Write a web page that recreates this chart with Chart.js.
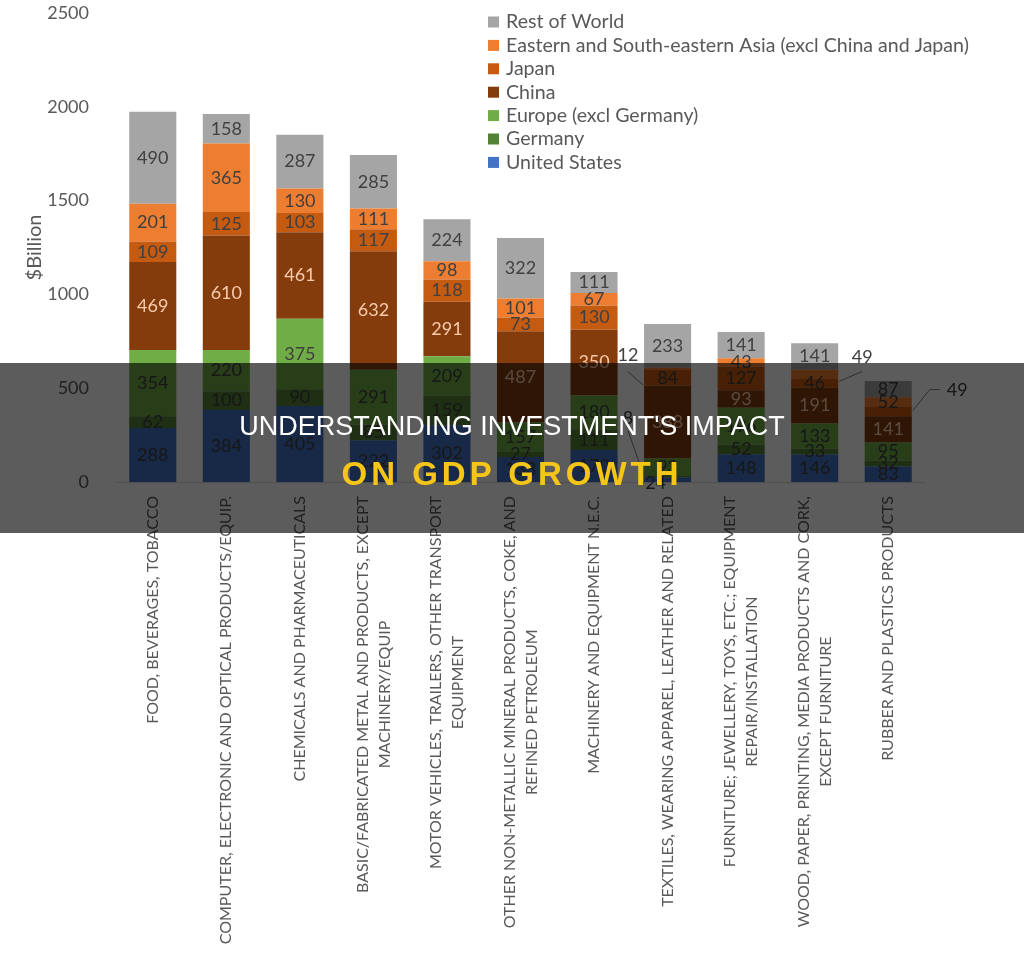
<!DOCTYPE html>
<html>
<head>
<meta charset="utf-8">
<script src="https://cdn.jsdelivr.net/npm/chart.js@4.4.1/dist/chart.umd.min.js"></script>
<style>
  html, body { margin: 0; padding: 0; background: #ffffff; }
  #wrap { position: relative; width: 1024px; height: 954px; overflow: hidden; }
  #c { position: absolute; left: 0; top: 0; }
  #band { position: absolute; left: 0; top: 363px; width: 1024px; height: 170px; background: rgba(0,0,0,0.64); }
  .t1 { position: absolute; left: 0; width: 1024px; text-align: center; top: 413px; font-family: "Liberation Sans", Arial, sans-serif; font-size: 27px; line-height: 27px; color: #ffffff; white-space: nowrap; }
  .t2 { position: absolute; left: 0; width: 1024px; text-align: center; top: 457px; font-family: "Liberation Sans", Arial, sans-serif; font-weight: bold; font-size: 33px; line-height: 33px; letter-spacing: 4px; color: #F5C518; white-space: nowrap; }
</style>
</head>
<body>
<div id="wrap">
  <canvas id="c" width="1024" height="954"></canvas>
  <div id="band"></div>
  <div class="t1">UNDERSTANDING INVESTMENT'S IMPACT</div>
  <div class="t2">ON GDP GROWTH</div>
</div>
<script>
// ---------------- DATA ----------------
const categories = [
  ["FOOD, BEVERAGES, TOBACCO"],
  ["COMPUTER, ELECTRONIC AND OPTICAL PRODUCTS/EQUIP."],
  ["CHEMICALS AND PHARMACEUTICALS"],
  ["BASIC/FABRICATED METAL AND PRODUCTS, EXCEPT", "MACHINERY/EQUIP"],
  ["MOTOR VEHICLES, TRAILERS, OTHER TRANSPORT", "EQUIPMENT"],
  ["OTHER NON-METALLIC MINERAL PRODUCTS, COKE, AND", "REFINED PETROLEUM"],
  ["MACHINERY AND EQUIPMENT N.E.C."],
  ["TEXTILES, WEARING APPAREL, LEATHER AND RELATED"],
  ["FURNITURE; JEWELLERY, TOYS, ETC.; EQUIPMENT", "REPAIR/INSTALLATION"],
  ["WOOD, PAPER, PRINTING, MEDIA PRODUCTS AND CORK,", "EXCEPT FURNITURE"],
  ["RUBBER AND PLASTICS PRODUCTS"]
];
const seriesNames = [
  "United States",
  "Germany",
  "Europe (excl Germany)",
  "China",
  "Japan",
  "Eastern and South-eastern Asia (excl China and Japan)",
  "Rest of World"
];
const unitedStates = [288, 384, 405, 222, 302, 133, 170, 24, 148, 146, 83];
const germany      = [ 62, 100,  90,  85, 159,  27, 111,  8,  52,  33, 32];
const europe       = [354, 220, 375, 291, 209, 157, 180, 93, 196, 133, 95];
const china        = [469, 610, 461, 632, 291, 487, 350, 388, 93, 191, 141];
const japan        = [109, 125, 103, 117, 118,  73, 130, 84, 127,  46, 49];
const eastAsia     = [201, 365, 130, 111,  98, 101,  67, 12,  43,  49, 52];
const restOfWorld  = [490, 158, 287, 285, 224, 322, 111, 233, 141, 141, 87];
const yTicks = [0, 500, 1000, 1500, 2000, 2500];
const yTitle = "$Billion";

// ---------------- STYLE ----------------
const seriesValues = [unitedStates, germany, europe, china, japan, eastAsia, restOfWorld];
const seriesColors = ["#4472C4", "#548235", "#70AD47", "#843C0C", "#C55A11", "#ED7D31", "#A5A5A5"];
const labelColors  = ["#404040", "#404040", "#404040", "#F8CBAD", "#404040", "#404040", "#404040"];
const FONT = "Lato, 'Open Sans', sans-serif";
const TEXT = "#595959";

// value labels drawn inside each stacked segment, some as callouts
const valueLabels = {
  id: "valueLabels",
  afterDatasetsDraw(chart) {
    const ctx = chart.ctx;
    ctx.save();
    ctx.font = "18px " + FONT;
    ctx.textAlign = "center";
    ctx.textBaseline = "middle";
    chart.data.datasets.forEach((ds, di) => {
      const meta = chart.getDatasetMeta(di);
      meta.data.forEach((el, j) => {
        const v = ds.data[j];
        const cy = (el.y + el.base) / 2;
        const left = el.x - el.width / 2, right = el.x + el.width / 2;
        ctx.fillStyle = labelColors[di];
        const key = di + ":" + j;
        if (key === "5:7") {            // textiles, East Asia -> callout to left
          ctx.fillStyle = "#404040";
          ctx.fillText(String(v), left - 16, cy - 14);
          ctx.strokeStyle = "#7f7f7f"; ctx.lineWidth = 1;
          ctx.beginPath(); ctx.moveTo(left - 16, cy + 3); ctx.lineTo(left - 1, cy + 16); ctx.stroke();
        } else if (key === "1:7") {     // textiles, Germany -> callout to left
          ctx.fillStyle = "#404040";
          ctx.fillText(String(v), left - 16, cy - 59);
          ctx.strokeStyle = "#7f7f7f"; ctx.lineWidth = 1;
          ctx.beginPath(); ctx.moveTo(left - 16, cy - 46); ctx.lineTo(left - 1, cy - 3); ctx.stroke();
        } else if (key === "0:7") {     // textiles, US
          ctx.fillStyle = "#404040";
          ctx.fillText(String(v), el.x - 12, cy + 3);
        } else if (key === "5:9") {     // wood, East Asia -> callout right
          ctx.fillStyle = "#404040";
          ctx.fillText(String(v), right + 24, cy - 17);
          ctx.strokeStyle = "#7f7f7f"; ctx.lineWidth = 1;
          ctx.beginPath(); ctx.moveTo(right + 1, cy + 7); ctx.lineTo(right + 24, cy - 3); ctx.stroke();
        } else if (key === "4:10") {    // rubber, Japan -> callout right
          ctx.fillStyle = "#404040";
          ctx.textAlign = "left";
          ctx.fillText(String(v), right + 35, cy - 21);
          ctx.textAlign = "center";
          ctx.strokeStyle = "#7f7f7f"; ctx.lineWidth = 1;
          ctx.beginPath(); ctx.moveTo(right + 1, cy - 1); ctx.lineTo(right + 18, cy - 22); ctx.lineTo(right + 28, cy - 22); ctx.stroke();
        } else {
          ctx.fillText(String(v), el.x, cy);
        }
      });
    });
    ctx.restore();
  }
};

// rotated, centre-aligned multi-line category labels
const categoryLabels = {
  id: "categoryLabels",
  afterDraw(chart) {
    const ctx = chart.ctx;
    const xs = chart.scales.x;
    const top = chart.chartArea.bottom + 14;
    const lh = 22;
    ctx.save();
    ctx.font = "16px " + FONT;
    ctx.fillStyle = TEXT;
    ctx.textAlign = "center";
    ctx.textBaseline = "middle";
    categories.forEach((lines, i) => {
      const x = xs.getPixelForValue(i);
      const w = Math.max(...lines.map(l => ctx.measureText(l).width));
      ctx.save();
      ctx.translate(x, top);
      ctx.rotate(-Math.PI / 2);
      lines.forEach((l, k) => {
        const off = (k - (lines.length - 1) / 2) * lh;
        ctx.fillText(l, -w / 2, off);
      });
      ctx.restore();
    });
    ctx.restore();
  }
};

// legend (reversed order, top right inside plot)
const customLegend = {
  id: "customLegend",
  afterDraw(chart) {
    const ctx = chart.ctx;
    ctx.save();
    ctx.font = "19.6px " + FONT;
    ctx.textAlign = "left";
    ctx.textBaseline = "middle";
    const n = chart.data.datasets.length;
    for (let k = 0; k < n; k++) {
      const di = n - 1 - k;
      const ds = chart.data.datasets[di];
      const y = 22 + k * 23.4;
      ctx.fillStyle = ds.backgroundColor;
      ctx.fillRect(488, y - 5.5, 11, 11);
      ctx.fillStyle = TEXT;
      ctx.fillText(ds.label, 506, y);
    }
    ctx.restore();
  }
};

new Chart(document.getElementById("c"), {
  type: "bar",
  data: {
    labels: categories.map(l => l.join(" ")),
    datasets: seriesValues.map((vals, i) => ({
      label: seriesNames[i],
      data: vals,
      backgroundColor: seriesColors[i],
      borderWidth: 0,
      categoryPercentage: 1.0,
      barPercentage: 0.64
    }))
  },
  options: {
    responsive: false,
    animation: false,
    devicePixelRatio: 1,
    layout: { padding: { top: 13, right: 99, left: 0, bottom: 0 } },
    plugins: { legend: { display: false }, tooltip: { enabled: false } },
    scales: {
      x: {
        stacked: true,
        grid: { display: false },
        border: { display: true, color: "#D9D9D9", width: 1 },
        ticks: { display: false },
        afterFit(s) { s.height = 954 - 482; s.paddingLeft = 0; s.paddingRight = 0; }
      },
      y: {
        stacked: true,
        min: 0, max: 2500,
        afterBuildTicks(s) { s.ticks = yTicks.map(v => ({ value: v })); },
        grid: { display: false },
        border: { display: false },
        ticks: { color: TEXT, font: { size: 18, family: FONT }, padding: 19, callback: (v) => String(v) },
        title: { display: true, text: yTitle, color: TEXT, font: { size: 20, family: FONT }, padding: { top: 23, bottom: 0 } },
        afterFit(s) { s.width = 116; s.paddingTop = 0; s.paddingBottom = 0; }
      }
    }
  },
  plugins: [valueLabels, categoryLabels, customLegend]
});
</script>
</body>
</html>
